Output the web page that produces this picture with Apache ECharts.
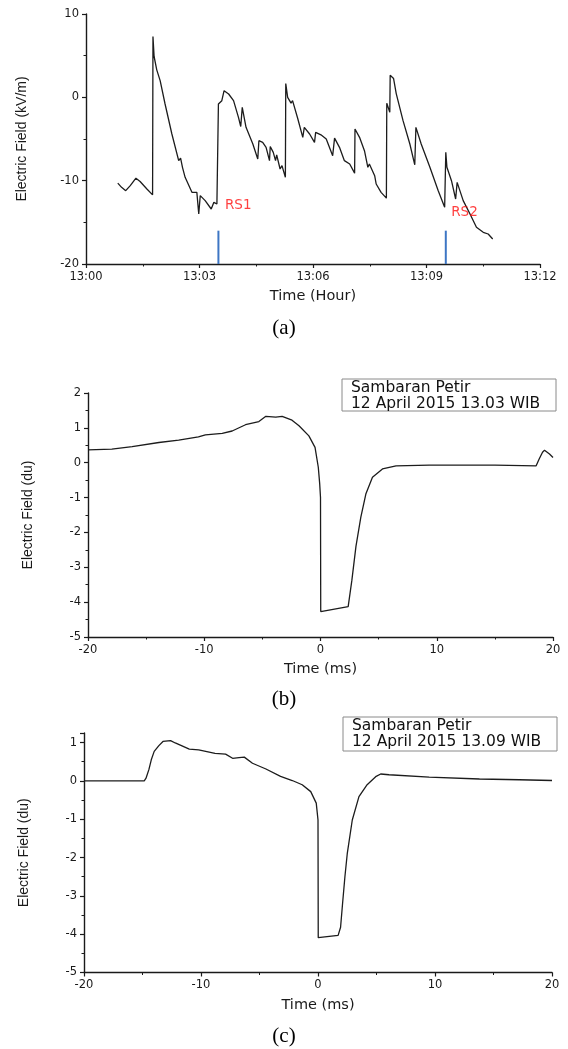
<!DOCTYPE html>
<html>
<head>
<meta charset="utf-8">
<script src="https://cdn.jsdelivr.net/npm/echarts@6/dist/echarts.min.js"></script>
<style>
  html, body { margin: 0; padding: 0; background: #fff; }
  #chart { width: 568px; height: 1049px; }
</style>
</head>
<body>
<div id="chart"></div>
<script>
// (a) field mill record, minutes after 13:00
const aTime = [0.84, 0.94, 1.05, 1.17, 1.32, 1.43, 1.61, 1.76, 1.77, 1.80, 1.87, 1.96, 2.09, 2.27, 2.45, 2.50, 2.55, 2.62, 2.80, 2.93, 2.98, 3.02, 3.15, 3.31, 3.38, 3.46,
  3.50, 3.59, 3.65, 3.77, 3.90, 4.03, 4.09, 4.13, 4.23, 4.41, 4.54, 4.57, 4.67, 4.76, 4.85, 4.87, 4.95, 5.01, 5.04, 5.13, 5.18, 5.27,
  5.28, 5.33, 5.42, 5.46, 5.60, 5.73, 5.77, 5.91, 6.04, 6.07, 6.21, 6.35, 6.52, 6.57, 6.70, 6.83, 6.97, 7.10,
  7.11, 7.23, 7.36, 7.45, 7.49, 7.63, 7.67, 7.80, 7.94, 7.95, 8.03, 8.04, 8.13, 8.20, 8.38, 8.56, 8.69, 8.72, 8.86, 9.09, 9.31, 9.48,
  9.51, 9.54, 9.66, 9.77, 9.81, 9.97, 10.15, 10.32, 10.50, 10.63, 10.75];
const aField = [-10.3, -10.8, -11.2, -10.6, -9.7, -10.1, -11.0, -11.7, 7.3, 4.9, 3.3, 2.0, -0.8, -4.4, -7.6, -7.3, -8.4, -9.6, -11.4, -11.4, -14.0, -11.8, -12.4, -13.4, -12.6, -12.8,
  -0.8, -0.4, 0.8, 0.4, -0.4, -2.4, -3.5, -1.2, -3.6, -5.6, -7.4, -5.2, -5.4, -6.0, -7.6, -5.9, -6.6, -7.6, -6.9, -8.6, -8.2, -9.6,
  1.65, 0.0, -0.7, -0.4, -2.6, -4.8, -3.6, -4.4, -5.4, -4.2, -4.5, -5.0, -7.0, -4.9, -6.0, -7.6, -8.0, -9.1,
  -3.8, -4.8, -6.4, -8.4, -8.0, -9.4, -10.4, -11.4, -12.1, -0.7, -1.8, 2.65, 2.25, 0.45, -2.8, -5.6, -8.1, -3.6, -5.6, -8.4, -11.2, -13.2,
  -6.6, -8.4, -10.0, -12.2, -10.2, -12.4, -14.0, -15.6, -16.2, -16.4, -17.0];
const aTickLabels = ['13:00', '13:03', '13:06', '13:09', '13:12'];

// return stroke markers
const rsTime = [3.50, 9.51];
const rsFrom = -20;
const rsTo = -16;
const rsNames = ['RS1', 'RS2'];
const rsLabelTime = [3.66, 9.64];
const rsLabelField = [-13.0, -13.85];

// (b) 12 April 2015 13.03 WIB
const bTime = [-20.0, -17.95, -16.2, -13.9, -12.2, -10.5, -9.9, -8.45, -7.6, -6.45, -5.3, -4.7, -3.85, -3.3, -2.45, -1.85, -1.0, -0.47, -0.19, -0.07,
  0.0, 0.02, 2.38, 2.7, 3.05, 3.47, 3.9, 4.47, 5.33, 6.5, 9.35, 12.0, 15.0, 18.55, 18.8, 19.1, 19.27, 19.7, 20.0];
const bField = [0.37, 0.39, 0.46, 0.58, 0.65, 0.74, 0.80, 0.84, 0.91, 1.09, 1.18, 1.33, 1.31, 1.33, 1.22, 1.06, 0.77, 0.44, -0.13, -0.6,
  -1.0, -4.27, -4.13, -3.37, -2.4, -1.56, -0.9, -0.42, -0.18, -0.09, -0.07, -0.07, -0.07, -0.09, 0.1, 0.3, 0.36, 0.25, 0.15];

// (c) 12 April 2015 13.09 WIB
const cTime = [-20.0, -14.85, -14.7, -14.45, -14.25, -14.0, -13.6, -13.25, -12.6, -12.2, -11.0, -10.2, -8.8, -7.9, -7.3, -6.75, -6.3, -5.6, -4.45, -3.2,
  -2.2, -1.35, -0.62, -0.15, 0.0, 0.02, 1.72, 1.93, 2.1, 2.3, 2.5, 2.93, 3.5, 4.2, 4.93, 5.36, 6.07, 9.5, 13.8, 17.2, 20.0];
const cField = [0, 0, 0.07, 0.3, 0.55, 0.77, 0.92, 1.03, 1.05, 0.99, 0.83, 0.81, 0.72, 0.70, 0.59, 0.61, 0.62, 0.46, 0.31, 0.12,
  0.01, -0.10, -0.28, -0.58, -1.02, -4.09, -4.03, -3.82, -3.2, -2.5, -1.9, -1.02, -0.41, -0.10, 0.11, 0.18, 0.16, 0.10, 0.05, 0.03, 0.01];

const legendB = ['Sambaran Petir', '12 April 2015 13.03 WIB'];
const legendC = ['Sambaran Petir', '12 April 2015 13.09 WIB'];

const pairs = (xs, ys) => xs.map((x, i) => [x, ys[i]]);

const ink = '#1a1a1a';
const tickFont = { fontFamily: 'DejaVu Sans', fontSize: 11.5, color: ink };
const nameFont = { fontFamily: 'DejaVu Sans', fontSize: 14.5, color: ink };
const yNameFont = { fontFamily: 'Liberation Sans', fontSize: 14, color: ink };

const axisCommon = (extra) => Object.assign({
  type: 'value',
  nameLocation: 'middle',
  axisLine: { show: true, onZero: false, lineStyle: { color: ink, width: 1.4 } },
  axisTick: { show: true, length: 4, lineStyle: { color: ink, width: 1.2 } },
  minorTick: { show: true, splitNumber: 2, length: 2.5, lineStyle: { color: ink, width: 1 } },
  splitLine: { show: false },
  axisLabel: Object.assign({ margin: 7 }, tickFont)
}, extra);

const myChart = echarts.init(document.getElementById('chart'));

const legendBox = (x, y, w, h, lines) => ({
  type: 'group',
  z: 100,
  children: [
    { type: 'rect', shape: { x: x, y: y, width: w, height: h }, style: { fill: '#fff', stroke: '#8a8a8a', lineWidth: 1 } },
    { type: 'text', x: x + 9, y: y + 8.5, style: { text: lines[0], fontFamily: 'DejaVu Sans', fontSize: 15.5, fill: '#111', verticalAlign: 'middle' } },
    { type: 'text', x: x + 9, y: y + 24.5, style: { text: lines[1], fontFamily: 'DejaVu Sans', fontSize: 15.5, fill: '#111', verticalAlign: 'middle' } }
  ]
});

const caption = (txt, y) => ({
  type: 'text', x: 284, y: y,
  style: { text: txt, fontFamily: 'Liberation Serif', fontSize: 21, fill: '#000', align: 'center', verticalAlign: 'middle' }
});

myChart.setOption({
  animation: false,
  grid: [
    { left: 86, top: 14, width: 454, height: 250 },
    { left: 88, top: 393, width: 465, height: 244 },
    { left: 84, top: 733, width: 468, height: 239.5 }
  ],
  xAxis: [
    axisCommon({
      gridIndex: 0, min: 0, max: 12, interval: 3,
      name: 'Time (Hour)', nameGap: 25, nameTextStyle: nameFont,
      axisLabel: Object.assign({ margin: 7, formatter: (v) => aTickLabels[Math.round(v / 3)] }, tickFont)
    }),
    axisCommon({ gridIndex: 1, min: -20, max: 20, interval: 10, name: 'Time (ms)', nameGap: 25, nameTextStyle: nameFont }),
    axisCommon({ gridIndex: 2, min: -20, max: 20, interval: 10, name: 'Time (ms)', nameGap: 25, nameTextStyle: nameFont })
  ],
  yAxis: [
    axisCommon({ gridIndex: 0, min: -20, max: 10, interval: 10, name: 'Electric Field (kV/m)', nameGap: 57, nameTextStyle: yNameFont }),
    axisCommon({ gridIndex: 1, min: -5, max: 2, interval: 1, name: 'Electric Field (du)', nameGap: 53, nameTextStyle: yNameFont }),
    axisCommon({
      gridIndex: 2, min: -5, max: 1.25, interval: 1, name: 'Electric Field (du)', nameGap: 53, nameTextStyle: yNameFont,
      axisLabel: Object.assign({ margin: 7, showMaxLabel: false }, tickFont)
    })
  ],
  series: [
    {
      type: 'line', xAxisIndex: 0, yAxisIndex: 0, data: pairs(aTime, aField),
      showSymbol: false, lineStyle: { color: '#1c1c1c', width: 1.3 }, z: 3
    },
    ...rsTime.map((t) => ({
      type: 'line', xAxisIndex: 0, yAxisIndex: 0, data: [[t, rsFrom], [t, rsTo]],
      showSymbol: false, lineStyle: { color: '#3d76c4', width: 2 }, z: 2
    })),
    {
      type: 'scatter', xAxisIndex: 0, yAxisIndex: 0,
      data: rsNames.map((n, i) => ({ name: n, value: [rsLabelTime[i], rsLabelField[i]] })),
      symbolSize: 1, itemStyle: { color: 'rgba(0,0,0,0)' }, z: 5,
      label: { show: true, position: 'right', distance: 0, formatter: (p) => p.name, color: '#ff1010', fontFamily: 'DejaVu Sans', fontSize: 13.5 }
    },
    {
      type: 'line', xAxisIndex: 1, yAxisIndex: 1, data: pairs(bTime, bField),
      showSymbol: false, lineStyle: { color: '#1c1c1c', width: 1.3 }
    },
    {
      type: 'line', xAxisIndex: 2, yAxisIndex: 2, data: pairs(cTime, cField),
      showSymbol: false, lineStyle: { color: '#1c1c1c', width: 1.3 }
    }
  ],
  graphic: [
    caption('(a)', 328),
    caption('(b)', 699),
    caption('(c)', 1036),
    legendBox(342, 379, 214, 32, legendB),
    legendBox(343, 717, 214, 34, legendC)
  ]
});
</script>
</body>
</html>
